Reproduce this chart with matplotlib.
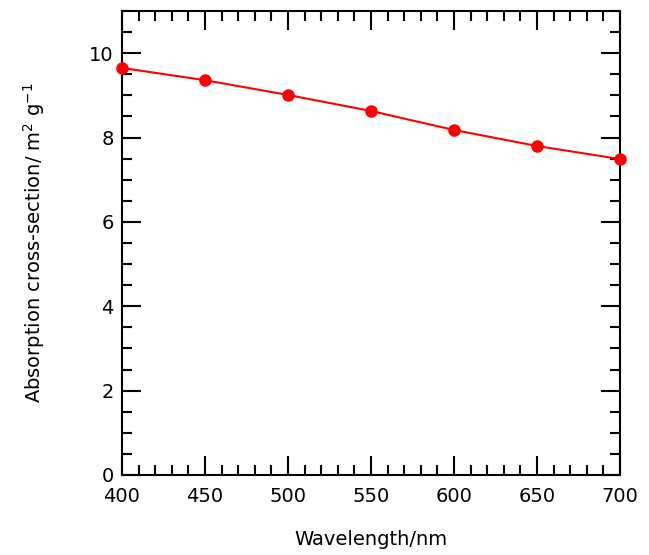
import matplotlib
matplotlib.use("Agg")
import matplotlib.pyplot as plt
from matplotlib.ticker import MultipleLocator

wavelength = [400, 450, 500, 550, 600, 650, 700]
cross_section = [9.65, 9.36, 9.01, 8.63, 8.18, 7.80, 7.49]

fig = plt.figure(figsize=(6.49, 5.55), dpi=100)
ax = fig.add_axes([122/649, 80/555, (620-122)/649, (475-11)/555])

ax.plot(wavelength, cross_section, color="#ff0000", lw=1.5, marker="o",
        markersize=8, clip_on=False, zorder=5)

ax.set_xlim(400, 700)
ax.set_ylim(0, 11)
ax.xaxis.set_major_locator(MultipleLocator(50))
ax.xaxis.set_minor_locator(MultipleLocator(10))
ax.yaxis.set_major_locator(MultipleLocator(2))
ax.yaxis.set_minor_locator(MultipleLocator(0.5))
ax.tick_params(which="both", direction="in", top=True, right=True, width=1.5,
               labelsize=14)
ax.tick_params(which="major", length=14)
ax.tick_params(which="minor", length=7)
ax.tick_params(axis="x", pad=9)
ax.tick_params(axis="y", pad=6)
for s in ax.spines.values():
    s.set_linewidth(1.5)

ax.set_xlabel("Wavelength/nm", fontsize=14, labelpad=17)
ax.set_ylabel(r"Absorption cross-section/ m$^{2}$ g$^{-1}$", fontsize=14, labelpad=30)

fig.savefig("out.png", dpi=100)
